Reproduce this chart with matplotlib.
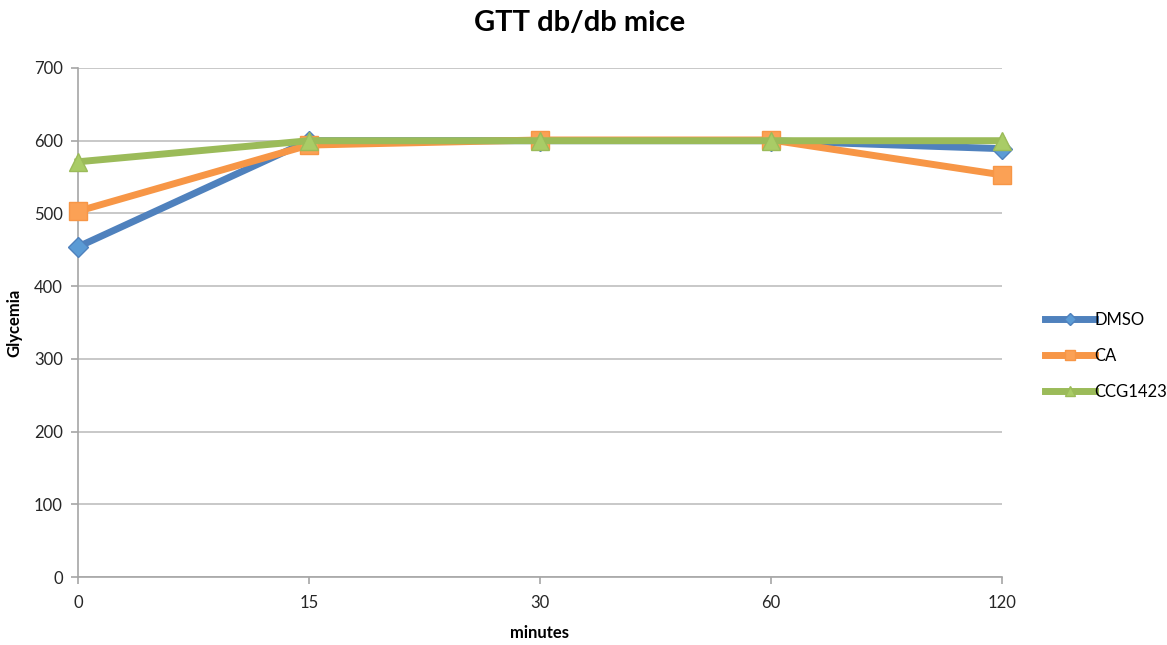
import matplotlib
matplotlib.use("Agg")
import matplotlib.pyplot as plt

plt.rcParams['font.family'] = ['Lato', 'DejaVu Sans']

time_labels = ["0", "15", "30", "60", "120"]
dmso = [454, 600, 600, 600, 589]
ca = [503, 594, 601, 601, 553]
ccg1423 = [571, 600, 600, 600, 600]
series_names = ["DMSO", "CA", "CCG1423"]

fig = plt.figure(figsize=(11.67, 6.45), dpi=100)
ax = fig.add_axes([0.0668, 0.1054, 0.7918, 0.7892])

x = list(range(len(time_labels)))
ax.plot(x, dmso, color="#4f81bd", lw=5, marker="D", ms=10,
        mfc="#5b9bd5", mec="#4f81bd", label=series_names[0], zorder=3, clip_on=False)
ax.plot(x, ca, color="#f79646", lw=5, marker="s", ms=13,
        mfc="#fba155", mec="#f79646", label=series_names[1], zorder=4, clip_on=False)
ax.plot(x, ccg1423, color="#9bbb59", lw=5, marker="^", ms=13,
        mfc="#a9cc66", mec="#9bbb59", label=series_names[2], zorder=5, clip_on=False)

ax.set_xlim(0, 4)
ax.set_ylim(0, 700)
ax.set_xticks(x)
ax.set_xticklabels(time_labels)
ax.set_yticks(range(0, 701, 100))
ax.grid(axis="y", color="#bfbfbf", lw=1.2)
ax.set_axisbelow(True)
for side in ["top", "right"]:
    ax.spines[side].set_visible(False)
for side in ["left", "bottom"]:
    ax.spines[side].set_color("#a6a6a6")
    ax.spines[side].set_linewidth(1.2)
ax.tick_params(axis="both", colors="#a6a6a6", length=5, width=1.2,
               labelcolor="#262626", labelsize=12)
ax.tick_params(axis="x", pad=8)
ax.tick_params(axis="y", pad=6)

ax.set_xlabel("minutes", fontsize=12, fontweight="bold", labelpad=10)
ax.set_ylabel("Glycemia", fontsize=12, fontweight="bold", labelpad=8)
fig.suptitle("GTT db/db mice", fontsize=21, fontweight="bold", x=0.497, y=0.985)

leg = ax.legend(loc="center left", bbox_to_anchor=(1.03, 0.435), frameon=False,
                fontsize=12, handlelength=3.0, labelspacing=1.2,
                handletextpad=0.0, markerscale=0.6)

fig.savefig("out.png", dpi=100)
